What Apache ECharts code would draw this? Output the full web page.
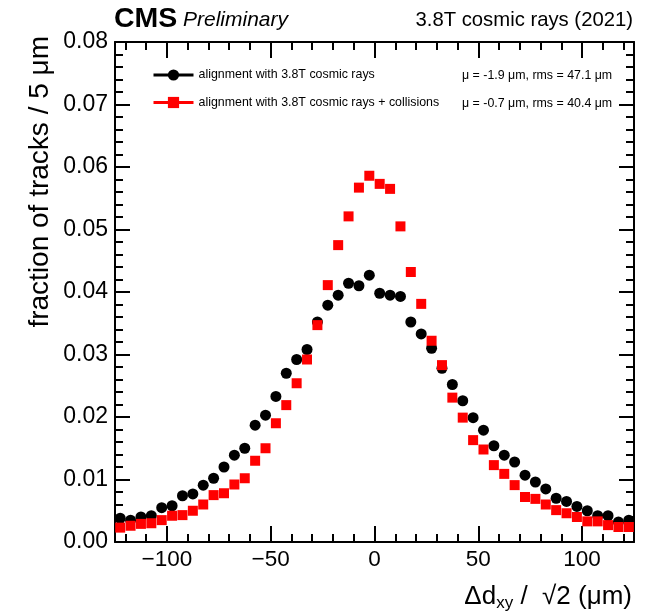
<!DOCTYPE html>
<html>
<head>
<meta charset="utf-8">
<script src="https://cdn.jsdelivr.net/npm/echarts@6/dist/echarts.min.js"></script>
<style>
html,body{margin:0;padding:0;background:#fff;}
#chart{width:650px;height:616px;}
</style>
</head>
<body>
<div id="chart"></div>
<script>
// ---- data ----
const binCenters = [-122.5,-117.5,-112.5,-107.5,-102.5,-97.5,-92.5,-87.5,-82.5,-77.5,
  -72.5,-67.5,-62.5,-57.5,-52.5,-47.5,-42.5,-37.5,-32.5,-27.5,
  -22.5,-17.5,-12.5,-7.5,-2.5,2.5,7.5,12.5,17.5,22.5,
  27.5,32.5,37.5,42.5,47.5,52.5,57.5,62.5,67.5,72.5,
  77.5,82.5,87.5,92.5,97.5,102.5,107.5,112.5,117.5,122.5];
const cosmicValues = [0.0038,0.0035,0.0040,0.0042,0.0055,0.0058,0.0074,0.0077,0.0091,0.0102,
  0.0120,0.0139,0.0150,0.0187,0.0203,0.0233,0.0270,0.0292,0.0308,0.0352,
  0.0379,0.0395,0.0414,0.0410,0.0427,0.0398,0.0395,0.0393,0.0352,0.0333,
  0.0310,0.0278,0.0252,0.0226,0.0199,0.0179,0.0154,0.0139,0.0128,0.0107,
  0.0096,0.0085,0.0070,0.0065,0.0057,0.0050,0.0042,0.0042,0.0032,0.0035];
const collisionValues = [0.0023,0.0026,0.0029,0.0030,0.0035,0.0042,0.0043,0.0050,0.0060,0.0075,
  0.0078,0.0092,0.0102,0.0130,0.0150,0.0190,0.0219,0.0254,0.0292,0.0347,
  0.0411,0.0475,0.0521,0.0567,0.0586,0.0573,0.0565,0.0505,0.0432,0.0381,
  0.0322,0.0283,0.0231,0.0199,0.0163,0.0148,0.0123,0.0109,0.0091,0.0072,
  0.0069,0.0060,0.0051,0.0046,0.0040,0.0033,0.0033,0.0027,0.0024,0.0024];
const seriesNames = ['alignment with 3.8T cosmic rays', 'alignment with 3.8T cosmic rays + collisions'];
const seriesStats = ['\u03bc = -1.9 \u03bcm, rms = 47.1 \u03bcm', '\u03bc = -0.7 \u03bcm, rms = 40.4 \u03bcm'];
const xMajorTicks = [-100,-50,0,50,100];
const xMinorTicks = [-120,-110,-90,-80,-70,-60,-40,-30,-20,-10,10,20,30,40,60,70,80,90,110,120];
const xRange = [-125, 125];
const yRange = [0, 0.08];
const yInterval = 0.01;

// ---- chart ----
const FONT = 'Liberation Sans, Arial, Helvetica, sans-serif';
const chart = echarts.init(document.getElementById('chart'), null, {renderer: 'canvas'});

function xAxisDef(position, ticks, len, showLine, showLabels) {
  return {
    type: 'value', min: xRange[0], max: xRange[1], position: position,
    axisLine: {show: showLine, onZero: false, lineStyle: {color: '#000', width: 2}},
    axisTick: {show: true, inside: true, length: len, customValues: ticks, lineStyle: {color: '#000', width: 2}},
    axisLabel: showLabels ? {
      show: true, customValues: ticks, color: '#000', fontSize: 22.5, fontFamily: FONT, margin: 6,
      formatter: v => String(v).replace('-', '\u2212')
    } : {show: false},
    splitLine: {show: false}
  };
}
function yAxisDef(position, showLabels) {
  return {
    type: 'value', min: yRange[0], max: yRange[1], interval: yInterval, position: position,
    axisLine: {show: true, onZero: false, lineStyle: {color: '#000', width: 2}},
    axisTick: {show: true, inside: true, length: 15, lineStyle: {color: '#000', width: 2}},
    minorTick: {show: true, splitNumber: 5, length: 8, lineStyle: {color: '#000', width: 2}},
    axisLabel: showLabels ? {
      show: true, color: '#000', fontSize: 23, fontFamily: FONT, margin: 7,
      formatter: v => v.toFixed(2)
    } : {show: false},
    splitLine: {show: false}, minorSplitLine: {show: false}
  };
}

const option = {
  animation: false,
  backgroundColor: '#fff',
  grid: {left: 115, right: 16, top: 42, bottom: 74, containLabel: false},
  xAxis: [
    xAxisDef('bottom', xMajorTicks, 16, true, true),
    xAxisDef('bottom', xMinorTicks, 8, false, false),
    xAxisDef('top', xMajorTicks, 16, true, false),
    xAxisDef('top', xMinorTicks, 8, false, false)
  ],
  yAxis: [yAxisDef('left', true), yAxisDef('right', false)],
  legend: {
    orient: 'vertical', left: 152, top: 69, padding: 0,
    itemWidth: 40, itemHeight: 14, itemGap: 15.5,
    textStyle: {fontSize: 12.4, fontFamily: FONT, color: '#000'},
    lineStyle: {opacity: 1, width: 3},
    data: seriesNames
  },
  series: [
    {
      name: seriesNames[0], type: 'line', xAxisIndex: 0, yAxisIndex: 0,
      data: binCenters.map((x, i) => [x, cosmicValues[i]]),
      symbol: 'circle', symbolSize: 11, showSymbol: true,
      itemStyle: {color: '#000'}, lineStyle: {color: '#000', opacity: 0, width: 3},
      z: 3
    },
    {
      name: seriesNames[1], type: 'line', xAxisIndex: 0, yAxisIndex: 0,
      data: binCenters.map((x, i) => [x, collisionValues[i]]),
      symbol: 'rect', symbolSize: 10, showSymbol: true,
      itemStyle: {color: '#ff0000'}, lineStyle: {color: '#ff0000', opacity: 0, width: 3},
      z: 4
    }
  ],
  graphic: [
    {type: 'text', x: 114, y: 19, style: {text: 'CMS', fontSize: 28.5, fontWeight: 'bold', fontFamily: FONT, fill: '#000', align: 'left', verticalAlign: 'middle'}},
    {type: 'text', x: 183, y: 20, style: {text: 'Preliminary', fontSize: 21, fontStyle: 'italic', fontFamily: FONT, fill: '#000', align: 'left', verticalAlign: 'middle'}},
    {type: 'text', x: 633, y: 20, style: {text: '3.8T cosmic rays (2021)', fontSize: 20.3, fontFamily: FONT, fill: '#000', align: 'right', verticalAlign: 'middle'}},
    {type: 'text', x: 40, y: 36, rotation: Math.PI / 2, style: {text: 'fraction of tracks / 5 \u03bcm', fontSize: 28, fontFamily: FONT, fill: '#000', align: 'right', verticalAlign: 'middle'}},
    {type: 'text', x: 632, y: 597, style: {
      text: '{n|\u0394d}{s|xy}{n| /  \u221a2 (\u03bcm)}', align: 'right', verticalAlign: 'middle',
      rich: {
        n: {fontSize: 26, fontFamily: FONT, fill: '#000'},
        s: {fontSize: 17, fontFamily: FONT, fill: '#000', padding: [13, 0, 0, 0]}
      }
    }},
    {type: 'text', x: 462, y: 76, style: {text: seriesStats[0], fontSize: 12.4, fontFamily: FONT, fill: '#000', align: 'left', verticalAlign: 'middle'}},
    {type: 'text', x: 462, y: 103.5, style: {text: seriesStats[1], fontSize: 12.4, fontFamily: FONT, fill: '#000', align: 'left', verticalAlign: 'middle'}}
  ]
};
chart.setOption(option);
</script>
</body>
</html>
